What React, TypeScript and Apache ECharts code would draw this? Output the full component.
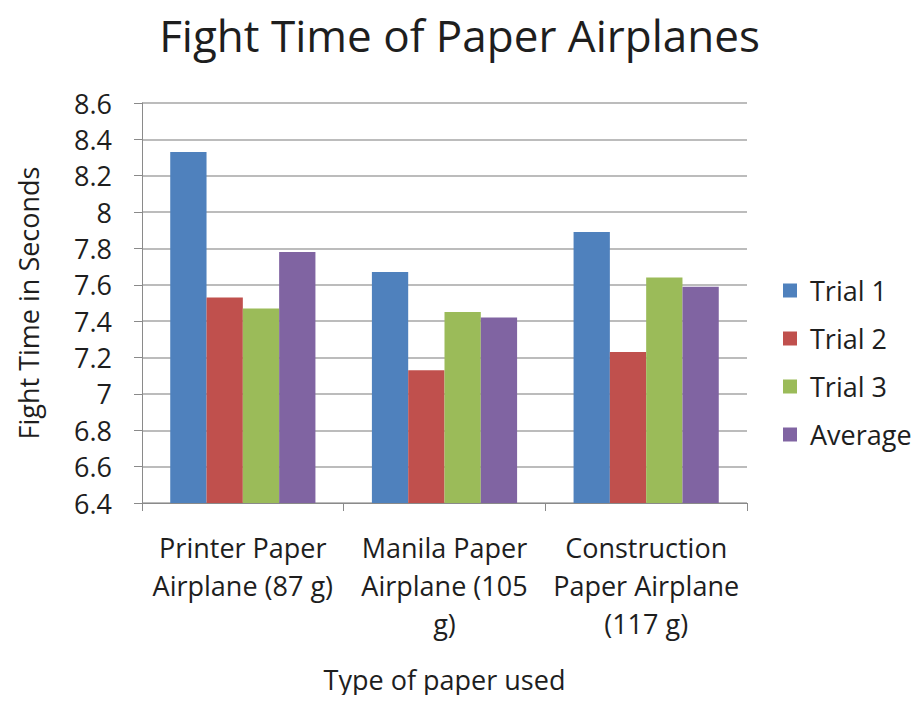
import React, { useEffect, useRef } from "react";
import * as echarts from "echarts";

// Flight times (seconds) for each paper type
const categories = [
  "Printer Paper Airplane (87 g)",
  "Manila Paper Airplane (105 g)",
  "Construction Paper Airplane (117 g)",
];
const categoryLabels = [
  "Printer Paper\nAirplane (87 g)",
  "Manila Paper\nAirplane (105\ng)",
  "Construction\nPaper Airplane\n(117 g)",
];
const trial1 = [8.33, 7.67, 7.89];
const trial2 = [7.53, 7.13, 7.23];
const trial3 = [7.47, 7.45, 7.64];
const average = [7.78, 7.42, 7.59];

const seriesNames = ["Trial 1", "Trial 2", "Trial 3", "Average"];
const seriesColors = ["#4F81BD", "#C0504D", "#9BBB59", "#8064A2"];

const FONT = "'Open Sans', 'Noto Sans', sans-serif";
const TEXT = "#1e1e1e";

export default function App() {
  const ref = useRef<HTMLDivElement>(null);

  useEffect(() => {
    if (!ref.current) return;
    const chart = echarts.init(ref.current, null, { renderer: "svg" });
    const values = [trial1, trial2, trial3, average];

    chart.setOption({
      animation: false,
      backgroundColor: "#ffffff",
      textStyle: { fontFamily: FONT, color: TEXT },
      title: {
        text: "Fight Time of Paper Airplanes",
        left: "center",
        top: 8,
        textStyle: { fontFamily: FONT, fontSize: 44, fontWeight: "normal", color: TEXT },
      },
      legend: {
        orient: "vertical",
        left: 778,
        top: 272,
        itemWidth: 14,
        itemHeight: 14,
        itemGap: 21,
        icon: "rect",
        textStyle: {
          fontFamily: FONT,
          fontSize: 27,
          color: TEXT,
          lineHeight: 24,
          padding: [0, 0, 0, 8],
        },
        data: seriesNames,
      },
      grid: { left: 142, right: 172, top: 103, bottom: 200 },
      xAxis: {
        type: "category",
        data: categories,
        name: "Type of paper used",
        nameLocation: "middle",
        nameGap: 163,
        nameTextStyle: { fontFamily: FONT, fontSize: 27, color: TEXT },
        axisLine: { lineStyle: { color: "#8a8a8a", width: 1 } },
        axisTick: { show: true, length: 8, alignWithLabel: false, lineStyle: { color: "#8a8a8a" } },
        axisLabel: {
          interval: 0,
          hideOverlap: false,
          margin: 25,
          fontFamily: FONT,
          fontSize: 27,
          lineHeight: 38,
          color: TEXT,
          formatter: (_v: string, i: number) => categoryLabels[i],
        },
      },
      yAxis: {
        type: "value",
        min: 6.4,
        max: 8.6,
        interval: 0.2,
        name: "Fight Time in Seconds",
        nameLocation: "middle",
        nameGap: 100,
        nameTextStyle: { fontFamily: FONT, fontSize: 27, color: TEXT },
        axisLine: { show: true, lineStyle: { color: "#8a8a8a", width: 1 } },
        axisTick: { show: true, length: 8, lineStyle: { color: "#8a8a8a" } },
        splitLine: { show: true, lineStyle: { color: "#a6a6a6", width: 1.5 } },
        axisLabel: {
          margin: 30,
          fontFamily: FONT,
          fontSize: 27,
          color: TEXT,
          formatter: (v: number) => String(Math.round(v * 10) / 10),
        },
      },
      series: seriesNames.map((name, i) => ({
        name,
        type: "bar",
        data: values[i],
        barGap: "0%",
        barCategoryGap: "28%",
        itemStyle: { color: seriesColors[i] },
      })),
    });

    return () => chart.dispose();
  }, []);

  return <div ref={ref} style={{ width: 919, height: 703, margin: -8 }} />;
}
